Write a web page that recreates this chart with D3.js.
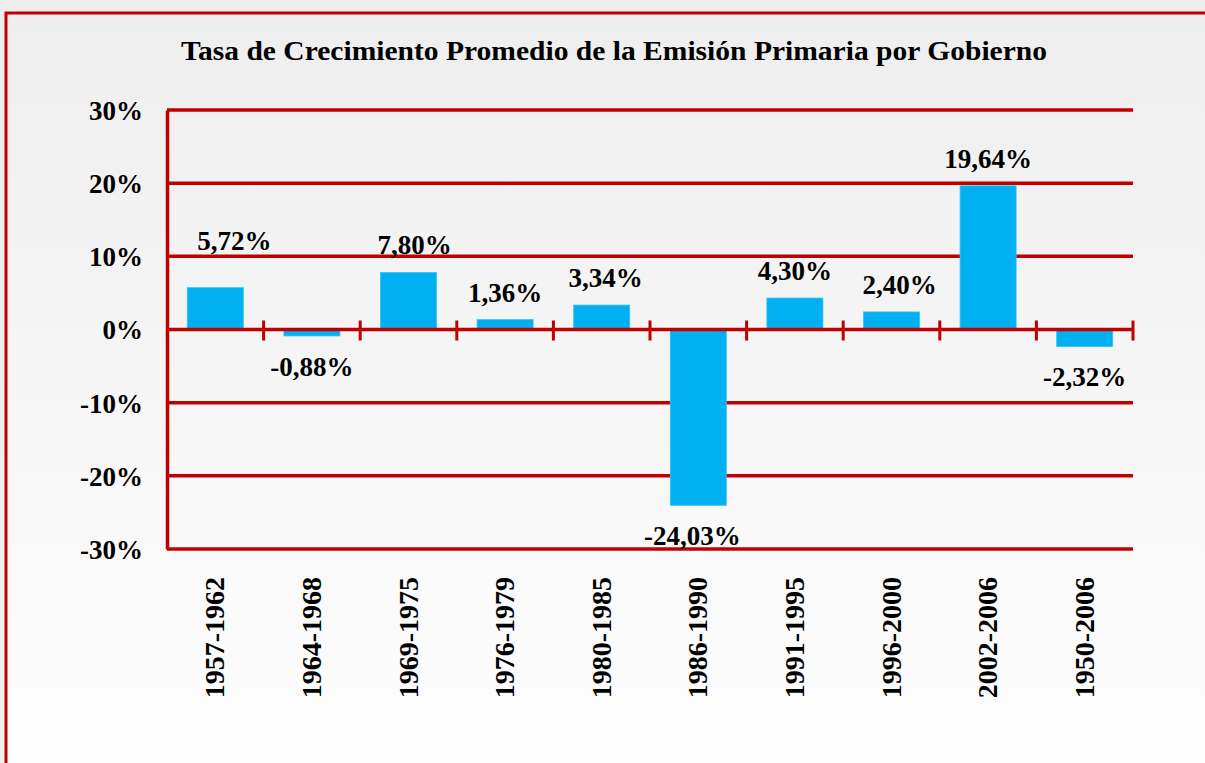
<!DOCTYPE html>
<html>
<head>
<meta charset="utf-8">
<script src="https://cdn.jsdelivr.net/npm/d3@7"></script>
<style>
html,body{margin:0;padding:0;background:#eeeeee;}
svg{display:block;}
</style>
</head>
<body>
<svg id="chart" width="1205" height="763"></svg>
<script>
const title = "Tasa de Crecimiento Promedio de la Emisión Primaria por Gobierno";
const categories = ["1957-1962","1964-1968","1969-1975","1976-1979","1980-1985","1986-1990","1991-1995","1996-2000","2002-2006","1950-2006"];
const values = [5.72,-0.88,7.80,1.36,3.34,-24.03,4.30,2.40,19.64,-2.32];
const yTicks = [30,20,10,0,-10,-20,-30];

const fmtPct = v => v.toFixed(2).replace(".", ",") + "%";

const svg = d3.select("#chart");
const W = 1205, H = 763;
const red = "#c00000";
const font = "'Liberation Serif','Times New Roman',serif";

const defs = svg.append("defs");
const grad = defs.append("linearGradient").attr("id","bg").attr("x1",0).attr("y1",0).attr("x2",0).attr("y2",1);
grad.append("stop").attr("offset","0%").attr("stop-color","#eeeeee");
grad.append("stop").attr("offset","100%").attr("stop-color","#fefefe");

svg.append("rect").attr("width",W).attr("height",H).attr("fill","#eeeeee");
svg.append("rect").attr("x",6).attr("y",13).attr("width",W+20).attr("height",H+20)
  .attr("fill","url(#bg)").attr("stroke",red).attr("stroke-width",3);

const m = {left:167, right:1133, top:110, bottom:549};
const x = d3.scaleBand().domain(categories).range([m.left, m.right]).paddingInner(0.42).paddingOuter(0.21);
const xb = d3.scaleBand().domain(categories).range([m.left, m.right]);
const y = d3.scaleLinear().domain([-30,30]).range([m.bottom, m.top]);

// title
svg.append("text").attr("x",(181+1047)/2).attr("y",60)
  .attr("text-anchor","middle").attr("font-family",font).attr("font-weight","bold")
  .attr("font-size",27).attr("textLength",866).attr("lengthAdjust","spacingAndGlyphs")
  .attr("fill","#000").text(title);

// grid
svg.append("g").selectAll("line").data(yTicks.filter(t=>t!==0)).join("line")
  .attr("x1",m.left).attr("x2",m.right).attr("y1",d=>y(d)).attr("y2",d=>y(d))
  .attr("stroke",red).attr("stroke-width",3.5);

// bars
svg.append("g").selectAll("rect").data(values).join("rect")
  .attr("x",(d,i)=>x(categories[i])).attr("width",x.bandwidth())
  .attr("y",d=>y(Math.max(0,d))).attr("height",d=>Math.abs(y(d)-y(0)))
  .attr("fill","#00b0f0").attr("stroke","#33c4f5").attr("stroke-width",0.8);

// y axis
const yAxis = d3.axisLeft(y).tickValues(yTicks).tickSize(0).tickPadding(24).tickFormat(d=>d+"%");
const gy = svg.append("g").attr("transform",`translate(${m.left},0)`).call(yAxis);
gy.select(".domain").attr("stroke",red).attr("stroke-width",3.5);
gy.selectAll("text").attr("font-family",font).attr("font-weight","bold").attr("font-size",27).attr("fill","#000").attr("dy","0.35em");

// zero axis with ticks at category boundaries
const gx = svg.append("g").attr("transform",`translate(0,${y(0)})`);
gx.append("line").attr("x1",m.left).attr("x2",m.right).attr("stroke",red).attr("stroke-width",3.5);
gx.selectAll("line.tk").data(categories).join("line").attr("class","tk")
  .attr("x1",d=>xb(d)+xb.bandwidth()).attr("x2",d=>xb(d)+xb.bandwidth())
  .attr("y1",-9).attr("y2",11).attr("stroke",red).attr("stroke-width",3);

// category labels (rotated)
svg.append("g").selectAll("text").data(categories).join("text")
  .attr("transform",d=>`translate(${xb(d)+xb.bandwidth()/2+9},577) rotate(-90)`)
  .attr("text-anchor","end").attr("font-family",font).attr("font-weight","bold")
  .attr("font-size",28).attr("fill","#000").text(d=>d);

// value labels
const labelDx = [19,0,6,0,4,-6,0,8,0,0];
const labelDy = [-20,0,0,0,0,0,0,0,0,0];
svg.append("g").selectAll("text").data(values).join("text")
  .attr("x",(d,i)=>xb(categories[i])+xb.bandwidth()/2+labelDx[i])
  .attr("y",(d,i)=>(d>=0 ? y(d)-18 : y(d)+40)+labelDy[i])
  .attr("text-anchor","middle").attr("font-family",font).attr("font-weight","bold")
  .attr("font-size",27).attr("fill","#000").text(d=>fmtPct(d));
</script>
</body>
</html>
